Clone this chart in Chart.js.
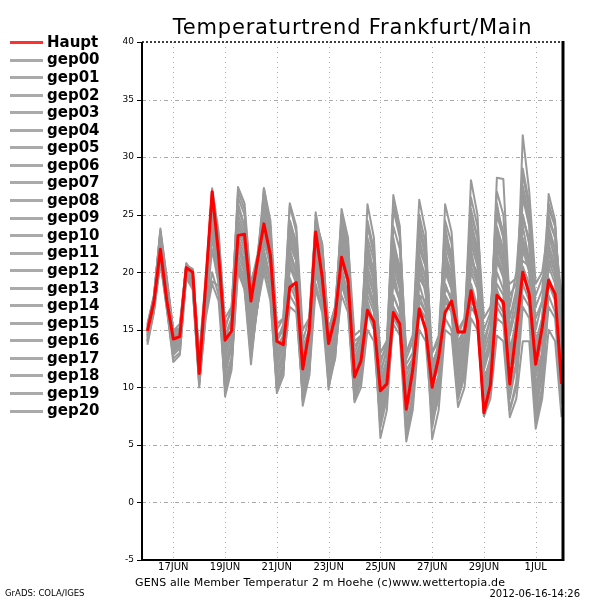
<!DOCTYPE html>
<html><head><meta charset="utf-8">
<script src="https://cdn.jsdelivr.net/npm/chart.js@4/dist/chart.umd.min.js"></script>
<style>html,body{margin:0;padding:0;background:#fff;}canvas{display:block;}</style>
</head><body>
<canvas id="c" width="600" height="600"></canvas>
<script>
// ---- data (6-hourly steps from 16 JUN 00Z) ----
const tickLabels = ['17JUN','19JUN','21JUN','23JUN','25JUN','27JUN','29JUN','1JUL'];
const tickSteps  = [4,12,20,28,36,44,52,60];
const yTicks = [-5,0,5,10,15,20,25,30,35,40];

const haupt = [14.9,17.4,22.0,17.5, 14.2,14.4,20.4,20.0, 11.2,18.9,27.0,21.5, 14.1,14.9,23.2,23.3, 17.5,21.0,24.2,21.5, 14.0,13.7,18.7,19.1, 11.6,14.9,23.5,19.6, 13.8,16.1,21.3,19.3, 10.9,12.3,16.7,15.7, 9.7,10.3,16.5,15.5, 8.1,11.5,16.8,15.0, 10.0,12.6,16.5,17.5, 14.8,14.8,18.4,15.8, 7.8,10.2,18.0,17.4, 10.3,15.0,20.0,18.1, 12.0,15.2,19.3,18.1, 10.3];
const gep00 = [14.8,17.2,22.5,18.0, 14.0,14.6,20.2,19.6, 11.5,18.0,26.5,22.0, 13.5,15.0,24.5,23.0, 17.0,20.5,25.5,22.0, 13.0,14.0,20.5,19.5, 11.0,15.5,24.0,20.5, 13.5,16.0,22.0,19.0, 11.0,13.0,19.5,17.0, 10.5,12.0,20.0,17.5, 9.0,12.5,21.0,18.0, 11.5,13.0,18.5,18.0, 13.0,14.0,22.0,19.0, 10.5,12.5,21.5,20.0, 12.0,16.0,24.0,21.0, 11.0,14.5,22.5,20.5, 12.5];
const gep01 = [15.2,17.8,23.8,19.5, 15.0,15.0,20.6,20.3, 12.5,19.0,27.3,23.5, 15.5,16.5,27.0,25.5, 18.5,21.0,27.3,24.5, 15.5,16.0,25.8,23.5, 14.0,16.0,23.0,21.0, 12.0,15.0,21.5,19.5, 13.5,14.5,18.5,17.0, 12.5,13.5,17.0,16.0, 12.0,13.0,19.5,18.5, 11.0,14.0,22.0,19.0, 12.5,15.5,24.5,22.0, 13.5,16.0,26.0,23.0, 15.0,18.0,24.5,23.0, 14.0,16.0,21.0,20.5, 17.5];
const gep02 = [13.7,16.5,20.8,16.8, 12.2,12.8,19.6,18.7, 10.0,16.2,23.5,19.0, 9.2,11.5,20.5,18.5, 12.0,17.5,21.0,18.0, 9.5,11.0,22.5,21.0, 10.5,13.0,25.2,22.0, 14.0,16.5,25.0,22.5, 14.5,15.0,24.0,21.5, 11.0,13.5,26.7,24.0, 10.0,12.0,23.0,20.5, 8.5,10.5,20.0,18.5, 9.5,11.5,18.0,16.0, 8.0,10.5,19.0,18.0, 9.0,12.0,20.5,19.0, 8.5,12.0,23.5,21.0, 9.0];
const gep03 = [14.5,17.0,21.5,17.2, 13.2,13.8,20.0,19.0, 10.8,17.0,25.0,20.5, 11.0,13.5,22.0,21.0, 14.5,19.0,24.0,21.5, 11.5,12.5,19.0,18.5, 9.0,11.5,20.0,17.5, 10.5,13.0,19.0,17.0, 9.5,12.0,21.0,19.5, 7.5,10.0,21.5,19.0, 6.0,9.5,24.5,21.0, 12.0,13.5,21.0,19.0, 11.0,13.0,25.0,23.0, 12.0,14.5,28.2,28.1, 17.0,20.0,27.5,25.0, 13.0,16.0,25.5,24.0, 16.0];
const gep04 = [15.0,17.5,22.8,18.5, 14.5,14.8,20.4,19.8, 11.0,17.5,24.0,20.0, 12.0,14.0,23.0,20.0, 15.5,18.0,22.5,21.0, 14.0,15.0,26.0,24.0, 15.0,16.0,24.5,22.5, 15.0,17.0,24.0,21.0, 12.5,14.0,22.5,20.0, 13.0,14.0,19.0,17.5, 11.5,12.5,16.5,16.0, 13.0,14.0,18.0,17.0, 14.0,15.0,21.0,20.0, 15.0,16.5,23.0,21.0, 13.0,16.0,31.9,27.0, 19.0,20.0,24.0,22.0, 14.0];
const gep05 = [14.2,16.8,22.0,17.5, 13.5,14.0,19.8,19.2, 10.5,16.5,20.0,18.0, 12.5,15.0,21.0,19.5, 13.0,17.0,20.0,17.5, 10.0,12.0,21.5,20.0, 8.4,11.0,21.0,19.0, 9.8,13.5,23.0,20.5, 10.0,11.5,17.5,15.5, 5.6,8.0,16.5,15.0, 7.0,9.0,18.0,17.5, 10.0,12.0,24.0,21.0, 12.0,13.5,20.0,18.5, 11.0,12.0,16.0,15.5, 10.0,12.0,18.0,17.0, 7.5,10.0,19.5,18.0, 10.5];
const gep06 = [14.6,17.3,23.0,18.2, 14.2,14.5,20.5,19.5, 11.8,18.5,26.8,21.0, 14.0,16.0,26.0,24.0, 17.5,20.0,24.5,22.0, 12.0,13.5,23.0,21.5, 12.5,14.5,22.0,20.0, 11.0,14.0,24.5,22.0, 12.0,13.0,25.9,23.0, 11.5,13.0,23.0,20.0, 9.5,11.5,22.0,20.5, 9.0,11.0,25.9,23.5, 15.0,16.0,23.5,21.5, 12.5,14.0,22.5,20.5, 11.0,14.0,26.5,24.0, 12.0,15.0,26.8,24.5, 15.0];
const gep07 = [14.0,16.8,21.0,17.0, 12.5,13.0,19.5,18.5, 10.2,16.0,19.0,17.5, 10.0,12.0,21.5,20.0, 14.0,18.5,23.0,20.5, 10.5,12.0,17.0,16.5, 9.5,12.0,19.0,17.0, 11.5,13.0,18.0,16.5, 8.7,10.0,15.0,14.0, 7.0,9.0,15.5,14.5, 5.3,8.0,15.0,14.0, 7.0,9.0,16.0,15.0, 9.0,11.0,17.5,16.5, 7.5,9.0,14.5,14.0, 7.4,9.0,14.0,14.0, 6.4,9.0,15.0,14.0, 7.4];
const gep08 = [15.5,18.0,23.5,19.0, 14.8,15.2,20.8,20.0, 12.0,18.0,26.0,22.5, 14.5,16.0,27.4,26.0, 19.0,21.5,26.0,23.0, 14.5,15.0,24.0,22.0, 12.0,14.0,23.5,21.5, 13.0,15.5,25.5,23.0, 11.5,13.5,24.5,22.0, 12.0,14.0,25.5,23.0, 13.0,14.5,26.3,23.5, 11.0,12.5,23.0,21.0, 13.5,15.0,28.0,25.0, 14.0,16.0,25.5,23.5, 14.5,17.0,29.0,26.0, 15.0,17.5,25.0,23.0, 18.0];
const gep09 = [14.3,17.0,22.2,17.8, 13.8,14.2,20.0,19.4, 11.2,17.2,25.5,21.0, 12.8,14.5,23.5,22.0, 16.0,19.5,27.3,24.0, 13.5,14.5,22.0,20.0, 11.5,13.5,20.5,18.5, 12.5,14.5,20.5,18.0, 10.5,12.0,20.0,18.0, 9.0,11.5,22.5,20.5, 8.0,10.5,20.0,18.5, 6.5,9.5,19.0,17.5, 10.5,12.5,23.0,21.0, 9.5,11.5,24.0,22.0, 13.5,15.0,22.5,20.5, 10.0,13.0,20.5,19.0, 11.0];
const gep10 = [14.9,17.6,23.2,18.8, 14.4,14.7,20.3,19.9, 12.2,17.8,25.0,21.5, 13.0,14.8,25.0,23.5, 16.5,19.0,23.5,21.0, 11.0,12.5,19.5,18.0, 10.0,12.5,22.5,20.0, 12.0,15.0,23.5,21.0, 11.5,12.5,21.5,19.0, 8.0,10.5,24.0,22.0, 10.5,12.0,21.5,19.5, 8.0,10.0,21.5,20.0, 11.5,13.5,26.5,24.0, 16.0,17.0,21.0,20.0, 19.0,19.5,21.0,20.5, 16.0,17.5,21.5,20.0, 17.0];
const gep11 = [14.1,16.6,21.2,16.8, 12.8,13.4,19.7,18.8, 10.6,16.4,22.0,19.0, 10.5,12.5,22.5,21.0, 13.5,17.0,21.5,19.0, 10.0,11.5,18.0,17.0, 9.0,11.0,18.5,16.5, 10.0,12.5,19.5,17.5, 9.0,11.0,16.5,15.0, 6.5,9.0,18.0,16.5, 5.8,8.5,17.0,16.0, 5.5,8.0,15.0,14.5, 8.3,10.0,16.0,15.0, 8.5,10.0,17.0,16.0, 8.0,10.5,19.0,17.5, 9.0,11.0,17.0,16.0, 8.5];
const gep12 = [15.3,17.9,23.5,19.2, 14.6,15.1,20.7,20.1, 12.8,19.5,27.0,23.0, 15.0,17.0,26.5,25.0, 18.0,21.0,26.5,23.5, 15.0,16.0,24.5,22.5, 13.5,15.0,24.0,22.0, 14.5,16.5,22.5,20.5, 13.0,14.5,23.0,21.0, 10.5,12.5,26.0,23.5, 12.5,14.0,25.0,22.5, 12.0,13.5,24.5,22.5, 14.5,16.0,25.5,23.0, 13.0,15.0,27.0,25.0, 16.0,18.5,28.5,25.5, 17.0,18.5,26.0,24.0, 16.5];
const gep13 = [14.4,17.1,22.6,17.9, 13.6,14.3,20.1,19.5, 11.4,17.4,24.5,20.5, 11.5,13.5,24.0,22.5, 15.0,18.5,25.0,22.0, 12.5,13.5,21.0,19.5, 10.5,13.0,21.5,19.5, 13.0,15.0,21.0,19.0, 11.0,12.0,18.0,16.5, 9.5,11.0,20.5,18.5, 9.0,11.0,23.5,21.5, 10.5,12.5,20.5,18.5, 12.0,14.0,19.0,17.0, 10.0,12.0,20.0,18.5, 11.0,13.5,25.0,22.5, 12.5,14.5,23.0,21.5, 13.0];
const gep14 = [13.9,16.7,21.8,17.3, 13.0,13.6,19.9,18.9, 10.4,16.8,23.0,19.5, 9.8,12.0,21.0,19.0, 12.5,17.0,22.0,19.5, 9.8,11.0,20.5,19.0, 8.8,11.5,23.0,20.5, 10.5,13.0,22.5,20.0, 10.0,11.5,19.0,17.5, 8.5,10.5,19.5,17.5, 6.5,9.0,19.0,17.0, 9.5,11.0,22.5,20.5, 9.0,11.0,21.5,19.5, 9.0,11.0,22.0,20.5, 9.5,12.0,23.0,21.0, 8.0,11.0,21.0,19.5, 10.0];
const gep15 = [15.1,17.7,23.0,18.6, 14.3,14.9,20.5,19.9, 12.4,18.8,26.2,22.2, 14.5,15.5,25.5,24.0, 16.0,20.5,26.0,23.5, 13.0,14.5,24.5,22.5, 12.0,14.5,22.5,20.5, 14.0,16.0,24.5,21.5, 12.0,14.0,22.0,20.0, 10.0,12.0,21.5,19.5, 11.0,12.5,22.5,20.5, 10.0,12.0,20.5,19.5, 11.0,13.0,22.5,20.5, 11.5,13.5,23.5,21.5, 12.5,15.0,27.0,24.5, 13.5,15.5,24.5,23.0, 14.5];
const gep16 = [14.7,17.4,22.4,18.1, 13.9,14.4,20.2,19.7, 11.6,18.2,26.0,21.8, 12.0,14.0,23.0,21.5, 15.0,19.0,24.5,21.5, 12.5,14.0,22.5,21.0, 11.5,14.0,23.5,21.0, 12.5,14.0,20.0,18.0, 10.0,11.5,19.0,17.0, 9.0,10.5,18.0,16.5, 7.5,10.0,20.5,19.0, 12.0,13.5,19.0,17.5, 10.0,12.0,20.5,19.0, 8.5,10.5,21.0,19.5, 10.5,13.0,22.0,20.0, 9.5,12.5,22.0,20.0, 12.0];
const gep17 = [14.0,16.9,21.6,17.4, 13.3,13.9,19.8,19.1, 11.0,17.0,24.0,19.8, 10.5,12.5,22.0,20.5, 14.0,18.0,23.0,20.5, 11.5,13.0,21.5,20.0, 10.0,12.5,21.5,19.0, 11.0,13.5,21.5,19.0, 9.5,11.0,20.5,18.5, 10.0,11.5,17.0,15.5, 9.5,11.0,18.0,16.5, 9.0,10.5,17.5,16.5, 10.0,11.5,18.5,17.0, 9.0,11.0,18.5,17.0, 12.0,13.5,20.0,18.5, 11.0,13.0,19.0,17.5, 11.5];
const gep18 = [15.4,17.9,23.6,19.3, 14.9,15.5,20.6,20.2, 12.6,17.5,19.2,18.8, 16.0,17.0,24.0,22.5, 17.5,20.0,25.0,22.5, 14.0,15.5,23.5,21.5, 13.0,15.0,24.5,22.5, 15.0,17.0,23.5,21.0, 14.0,14.5,21.0,19.5, 13.0,14.0,22.0,20.0, 13.0,14.5,24.0,22.0, 13.0,14.5,23.5,21.5, 13.0,14.5,21.0,19.5, 12.0,14.0,25.0,23.0, 18.0,19.0,22.5,21.0, 18.0,19.5,20.5,20.5, 18.0];
const gep19 = [14.5,17.2,22.3,17.6, 13.1,13.7,19.6,18.7, 10.8,16.6,23.5,19.8, 10.0,12.0,20.0,18.5, 13.5,17.0,20.5,18.5, 10.5,12.0,19.0,17.5, 9.5,12.0,20.0,18.0, 10.5,12.5,19.0,17.0, 9.0,10.5,17.0,15.5, 7.0,9.5,16.0,15.0, 8.5,10.0,17.5,16.5, 7.5,9.5,18.0,16.5, 9.5,11.0,17.0,16.0, 7.5,9.5,17.5,16.5, 8.0,10.0,17.0,16.0, 7.0,9.5,18.0,16.5, 9.5];
const gep20 = [14.8,17.5,22.9,18.4, 14.1,14.6,20.3,19.6, 11.7,18.3,26.2,21.6, 13.0,15.0,24.5,23.0, 16.5,19.5,24.0,21.5, 12.0,13.5,22.5,21.0, 11.0,13.5,22.0,20.0, 12.0,14.0,22.0,19.5, 11.0,12.5,21.5,19.5, 9.5,11.5,21.0,19.0, 10.0,12.0,21.0,19.5, 11.0,12.5,21.0,19.5, 12.5,14.0,24.0,21.5, 10.5,12.5,23.0,21.0, 13.0,15.0,25.0,22.5, 12.0,14.0,23.5,22.0, 13.5];

const memberNames = ['gep00','gep01','gep02','gep03','gep04','gep05','gep06','gep07','gep08','gep09','gep10','gep11','gep12','gep13','gep14','gep15','gep16','gep17','gep18','gep19','gep20'];
const members = [gep00,gep01,gep02,gep03,gep04,gep05,gep06,gep07,gep08,gep09,gep10,gep11,gep12,gep13,gep14,gep15,gep16,gep17,gep18,gep19,gep20];

const titleText = 'Temperaturtrend Frankfurt/Main';
const captionText = 'GENS alle Member Temperatur 2 m Hoehe (c)www.wettertopia.de';
const creditText = 'GrADS: COLA/IGES';
const stampText = '2012-06-16-14:26';

// ---- styling ----
const RED = '#ff0000', GRAY = '#999999';
const FONT = '"DejaVu Sans", "Liberation Sans", sans-serif';

const datasets = [{
  label: 'Haupt', data: haupt.map((v, i) => ({x: i, y: v})),
  borderColor: RED, borderWidth: 3, pointRadius: 0, tension: 0, borderJoinStyle: 'round'
}];
members.forEach((m, k) => datasets.push({
  label: memberNames[k], data: m.map((v, i) => ({x: i, y: v})),
  borderColor: GRAY, borderWidth: 2, pointRadius: 0, tension: 0, borderJoinStyle: 'round'
}));

const decor = {
  id: 'decor',
  beforeDatasetsDraw(chart) {
    const {ctx, chartArea: a, scales: {x, y}} = chart;
    ctx.save();
    ctx.strokeStyle = '#aaaaaa'; ctx.lineWidth = 1;
    ctx.setLineDash([4, 3, 1, 3]);
    yTicks.forEach(v => {
      if (v <= -5 || v >= 40) return;
      const py = Math.round(y.getPixelForValue(v)) + 0.5;
      ctx.beginPath(); ctx.moveTo(a.left, py); ctx.lineTo(a.right, py); ctx.stroke();
    });
    ctx.setLineDash([1, 4]);
    tickSteps.forEach(v => {
      const px = Math.round(x.getPixelForValue(v)) + 0.5;
      ctx.beginPath(); ctx.moveTo(px, a.top); ctx.lineTo(px, a.bottom); ctx.stroke();
    });
    ctx.restore();
  },
  afterDraw(chart) {
    const {ctx, chartArea: a, scales: {y}} = chart;
    ctx.save();
    // frame
    ctx.strokeStyle = '#000';
    ctx.setLineDash([2, 2]); ctx.lineWidth = 1.5;
    ctx.beginPath(); ctx.moveTo(a.left, a.top); ctx.lineTo(a.right, a.top); ctx.stroke();
    ctx.setLineDash([]);
    ctx.lineWidth = 2;
    ctx.beginPath(); ctx.moveTo(a.left, a.top); ctx.lineTo(a.left, a.bottom); ctx.lineTo(a.right, a.bottom); ctx.stroke();
    ctx.lineWidth = 3;
    ctx.beginPath(); ctx.moveTo(a.right, a.top - 1); ctx.lineTo(a.right, a.bottom + 1); ctx.stroke();
    ctx.lineWidth = 1;
    yTicks.forEach(v => {
      const py = Math.round(y.getPixelForValue(v)) + 0.5;
      ctx.beginPath(); ctx.moveTo(a.left - 5, py); ctx.lineTo(a.left, py); ctx.stroke();
    });
    // title
    ctx.fillStyle = '#000';
    ctx.font = '21px ' + FONT;
    ctx.letterSpacing = '0.8px';
    ctx.textAlign = 'center'; ctx.textBaseline = 'alphabetic';
    ctx.fillText(titleText, (a.left + a.right) / 2, 34);
    ctx.letterSpacing = '0px';
    // legend
    const names = ['Haupt'].concat(memberNames);
    ctx.font = 'bold 15px ' + FONT;
    ctx.textAlign = 'left'; ctx.textBaseline = 'middle';
    names.forEach((n, k) => {
      const ly = 42 + k * 17.55;
      ctx.strokeStyle = k === 0 ? '#ff3030' : '#aaaaaa';
      ctx.lineWidth = 3;
      ctx.beginPath(); ctx.moveTo(10, Math.round(ly) + 0.5); ctx.lineTo(43, Math.round(ly) + 0.5); ctx.stroke();
      ctx.fillText(n, 47, ly + 1);
    });
    // captions
    ctx.font = '11px ' + FONT;
    ctx.letterSpacing = '0.15px';
    ctx.textBaseline = 'middle';
    ctx.fillText(captionText, 135, 583);
    ctx.letterSpacing = '0px';
    ctx.font = '8.5px ' + FONT;
    ctx.fillText(creditText, 5, 594);
    ctx.textAlign = 'right';
    ctx.font = '10px ' + FONT;
    ctx.fillText(stampText, 580, 594);
    ctx.restore();
  }
};

new Chart(document.getElementById('c').getContext('2d'), {
  type: 'line',
  data: {datasets},
  options: {
    responsive: false, animation: false, devicePixelRatio: 1,
    layout: {padding: {left: 0, right: 37, top: 42, bottom: 0}},
    plugins: {legend: {display: false}, title: {display: false}, tooltip: {enabled: false}},
    scales: {
      x: {
        type: 'linear', min: -0.84, max: 64.22,
        afterBuildTicks(s) { s.ticks = tickSteps.map(v => ({value: v})); },
        afterFit(s) { s.height = 40; },
        grid: {display: false, drawTicks: false}, border: {display: false},
        ticks: {
          autoSkip: false, maxRotation: 0, padding: 1, color: '#000',
          font: {family: FONT, size: 10},
          callback(v) { const k = tickSteps.indexOf(v); return k >= 0 ? tickLabels[k] : ''; }
        }
      },
      y: {
        min: -5, max: 40,
        afterBuildTicks(s) { s.ticks = yTicks.map(v => ({value: v})); },
        afterFit(s) { s.width = 142; },
        grid: {display: false, drawTicks: false}, border: {display: false},
        ticks: {padding: 8, color: '#000', font: {family: FONT, size: 9}}
      }
    }
  },
  plugins: [decor]
});
</script>
</body></html>
